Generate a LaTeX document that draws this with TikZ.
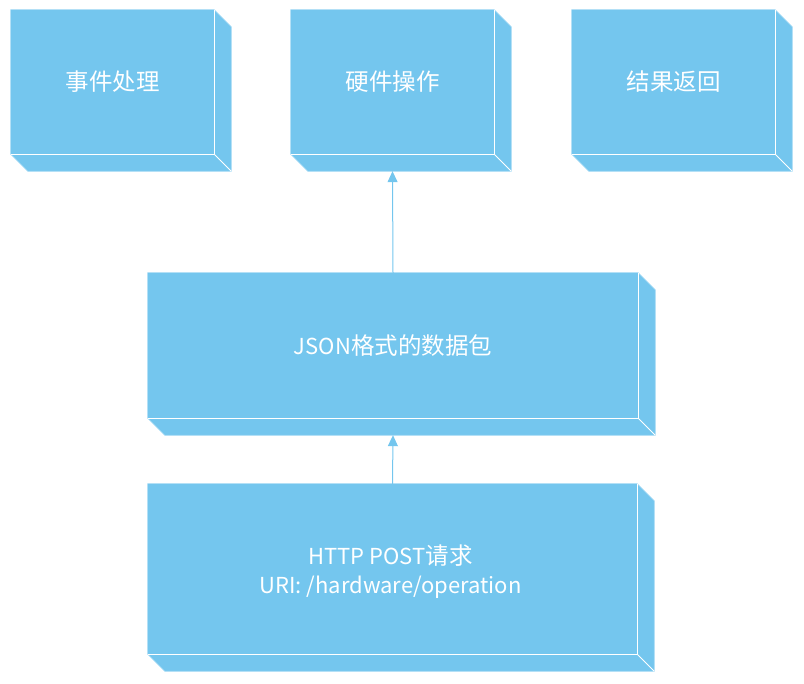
\documentclass[tikz,border=0pt]{standalone}
\usepackage{fontspec}
\setmainfont{Noto Sans CJK SC}
\usetikzlibrary{arrows.meta,calc}
\definecolor{cubeblue}{RGB}{116,198,238}
\definecolor{cubeedge}{RGB}{150,212,243}
\newcommand{\zh}[1]{{\fontsize{23.5}{29}\selectfont #1}}
\tikzset{
  cubeface/.style={fill=cubeblue, draw=none, inner sep=0pt, text=white, align=center,
    font=\fontsize{22}{29}\selectfont},
  cubeside/.style={fill=cubeblue, draw=cubeedge, line width=0.8pt, line join=miter},
  cubeline/.style={draw=white, line width=1pt},
  link/.style={draw=cubeblue, line width=1pt, -{Triangle[width=10pt,length=11pt]}}
}
% #1 node name, #2 depth
\newcommand{\cubedepth}[2]{%
  \path[cubeside] (#1.north west) -- (#1.north east) -- ($(#1.north east)+(#2,#2)$)
     -- ($(#1.south east)+(#2,#2)$) -- ($(#1.south west)+(#2,#2)$) -- (#1.south west) -- cycle;
  \path[fill=cubeblue] (#1.north west) rectangle (#1.south east);
  \draw[cubeline] (#1.north east) -- (#1.south east) -- (#1.south west);
  \draw[cubeline] (#1.south east) -- ($(#1.south east)+(#2,#2)$);
  \coordinate (#1-bottom) at ($(#1.south)+(0,#2)$);
}
\begin{document}
\begin{tikzpicture}[x=1pt,y=-1pt]
\useasboundingbox (0,0) rectangle (804,684);

\node[cubeface, minimum width=203pt, minimum height=144pt] (e1) at (112.5,82) {};
\cubedepth{e1}{17}
\node[cubeface, minimum width=203pt, minimum height=144pt] (e2) at (392.5,82) {};
\cubedepth{e2}{17}
\node[cubeface, minimum width=203pt, minimum height=144pt] (e3) at (673.5,82) {};
\cubedepth{e3}{17}
\node[cubeface, minimum width=490pt, minimum height=145pt] (e4) at (393,345.5) {};
\cubedepth{e4}{17}
\node[cubeface, minimum width=489pt, minimum height=170pt] (e5) at (392.5,569) {};
\cubedepth{e5}{17}

\node[cubeface, fill=none] (t1) at (e1) {\zh{事件处理}};
\node[cubeface, fill=none] (t2) at (e2) {\zh{硬件操作}};
\node[cubeface, fill=none] (t3) at (e3) {\zh{结果返回}};
\node[cubeface, fill=none] (t4) at (e4) {JSON\zh{格式的数据包}};
\node[cubeface, fill=none] (t5) at ($(e5)+(-2,3)$) {HTTP POST\zh{请求}\\URI: /hardware/operation};

\draw[link] (e5.north) -- (e4-bottom);
\draw[link] (e4.north) -- (e2-bottom);
\end{tikzpicture}
\end{document}
